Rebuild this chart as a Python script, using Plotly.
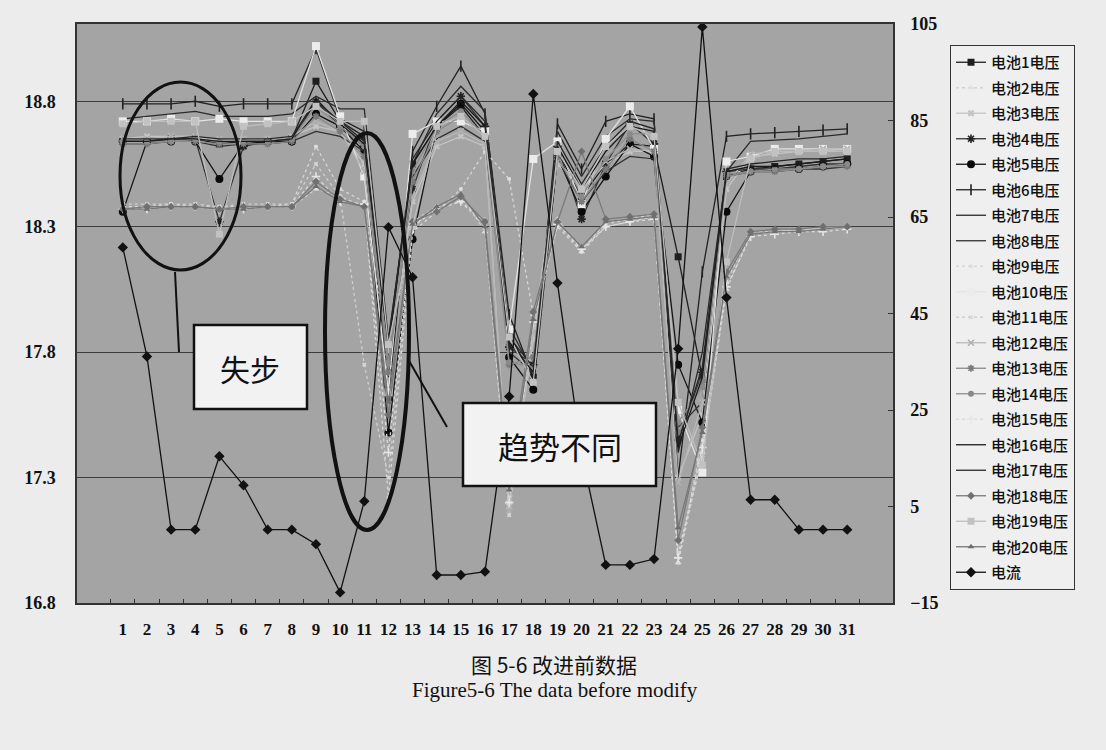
import plotly.graph_objects as go

# ---------------- data ----------------
points = [str(i) for i in range(1, 32)]

b1 = [18.64,18.64,18.65,18.65,18.63,18.64,18.64,18.65,18.88,18.72,18.66,17.62,18.55,18.70,18.78,18.66,17.87,17.70,18.60,18.42,18.55,18.63,18.62,18.18,17.70,18.50,18.53,18.54,18.55,18.56,18.57]
b2 = [18.37,18.38,18.38,18.38,18.37,18.38,18.38,18.38,18.45,18.42,18.38,17.80,18.30,18.38,18.43,18.28,17.18,17.95,18.33,18.20,18.32,18.33,18.35,16.96,17.40,18.05,18.27,18.28,18.28,18.29,18.30]
b3 = [18.65,18.66,18.66,18.66,18.64,18.65,18.65,18.66,18.70,18.68,18.55,17.75,18.40,18.62,18.66,18.62,17.20,17.85,18.55,18.45,18.55,18.60,18.60,17.30,17.55,18.45,18.58,18.59,18.60,18.60,18.61]
b4 = [18.64,18.64,18.65,18.65,18.32,18.62,18.64,18.64,18.80,18.70,18.62,17.78,18.45,18.72,18.82,18.70,17.82,17.75,18.62,18.33,18.55,18.71,18.63,17.45,17.72,18.52,18.53,18.53,18.54,18.55,18.55]
b5 = [18.36,18.64,18.64,18.64,18.49,18.63,18.64,18.64,18.75,18.70,18.60,17.48,18.25,18.70,18.79,18.68,17.78,17.65,18.58,18.36,18.50,18.63,18.58,17.75,17.52,18.36,18.52,18.53,18.53,18.54,18.55]
b6 = [18.79,18.79,18.79,18.80,18.78,18.79,18.79,18.79,19.01,18.73,18.68,17.80,18.60,18.78,18.94,18.75,17.95,17.70,18.71,18.53,18.72,18.75,18.73,17.30,18.12,18.66,18.67,18.675,18.68,18.685,18.69]
b7 = [18.73,18.74,18.75,18.76,18.74,18.74,18.74,18.75,18.82,18.77,18.77,17.85,18.55,18.75,18.86,18.76,17.90,17.72,18.68,18.50,18.66,18.73,18.72,17.40,17.80,18.52,18.64,18.645,18.65,18.66,18.67]
b8 = [18.63,18.63,18.64,18.64,18.62,18.63,18.63,18.64,18.68,18.66,18.60,17.70,18.50,18.65,18.70,18.64,17.80,17.72,18.57,18.40,18.52,18.58,18.57,17.50,17.60,18.50,18.52,18.52,18.53,18.53,18.54]
b9 = [18.38,18.38,18.39,18.38,18.38,18.38,18.38,18.39,18.62,18.45,18.40,17.22,18.28,18.36,18.45,18.60,18.49,17.95,18.30,18.20,18.30,18.32,18.34,16.96,17.45,18.10,18.27,18.28,18.29,18.29,18.30]
b10 = [18.72,18.72,18.73,18.72,18.73,18.72,18.72,18.72,19.02,18.74,18.50,17.64,18.67,18.72,18.72,18.68,17.89,18.57,18.64,18.39,18.65,18.78,18.61,17.57,17.32,18.56,18.58,18.61,18.61,18.61,18.61]
b11 = [18.39,18.39,18.39,18.39,18.38,18.39,18.39,18.39,18.55,18.42,17.75,17.30,18.32,18.38,18.40,18.30,17.15,17.90,18.32,18.22,18.31,18.33,18.34,17.00,17.38,18.08,18.28,18.28,18.29,18.29,18.30]
b12 = [18.65,18.65,18.66,18.66,18.65,18.65,18.65,18.66,18.72,18.68,18.52,17.80,18.42,18.64,18.68,18.63,17.17,17.88,18.56,18.46,18.56,18.61,18.60,17.28,17.60,18.47,18.59,18.60,18.60,18.61,18.61]
b13 = [18.63,18.63,18.64,18.64,18.63,18.63,18.63,18.64,18.74,18.68,18.58,17.72,18.48,18.68,18.74,18.66,17.75,17.78,18.58,18.40,18.53,18.65,18.60,17.48,17.68,18.50,18.52,18.52,18.53,18.54,18.54]
b14 = [18.64,18.64,18.64,18.65,18.64,18.64,18.64,18.65,18.78,18.70,18.62,17.76,18.52,18.70,18.76,18.66,17.76,17.74,18.63,18.42,18.57,18.67,18.67,17.52,17.66,18.51,18.52,18.53,18.53,18.54,18.55]
b15 = [18.37,18.37,18.38,18.38,18.37,18.37,18.38,18.38,18.50,18.40,18.39,17.40,18.30,18.37,18.40,18.32,17.20,17.92,18.31,18.21,18.30,18.32,18.33,16.98,17.42,18.06,18.26,18.27,18.28,18.28,18.29]
b16 = [18.64,18.64,18.65,18.65,18.64,18.64,18.64,18.65,18.81,18.71,18.63,17.82,18.55,18.70,18.80,18.70,17.84,17.72,18.62,18.45,18.60,18.70,18.68,17.42,17.70,18.52,18.54,18.54,18.55,18.56,18.57]
b17 = [18.65,18.65,18.65,18.66,18.65,18.65,18.65,18.66,18.80,18.72,18.64,17.84,18.57,18.72,18.82,18.72,17.86,17.74,18.64,18.47,18.62,18.72,18.69,17.44,17.74,18.53,18.55,18.56,18.57,18.57,18.58]
b18 = [18.37,18.38,18.38,18.38,18.37,18.38,18.38,18.38,18.48,18.41,18.38,17.55,18.32,18.36,18.42,18.32,17.30,17.96,18.32,18.60,18.33,18.34,18.35,17.05,17.50,18.12,18.28,18.29,18.29,18.30,18.30]
b19 = [18.71,18.72,18.72,18.72,18.27,18.70,18.71,18.72,18.78,18.72,18.72,17.83,18.30,18.70,18.74,18.66,17.86,17.68,18.60,18.45,18.62,18.70,18.66,17.60,17.35,18.16,18.57,18.60,18.60,18.60,18.60]
b20 = [18.37,18.37,18.38,18.38,18.37,18.37,18.38,18.38,18.46,18.40,18.38,17.60,18.31,18.38,18.43,18.30,17.25,17.93,18.32,18.22,18.32,18.33,18.34,17.10,17.48,18.10,18.27,18.28,18.28,18.29,18.30]
current = [58.7,36.1,0.2,0.2,15.4,9.4,0.2,0.2,-2.8,-12.8,6.1,62.9,52.5,-9.2,-9.2,-8.5,27.8,90.5,51.3,16.0,-7.1,-7.1,-5.9,37.7,104.4,48.3,6.4,6.4,0.2,0.2,0.2]

battery_names = [f"电池{i}电压" for i in range(1, 21)]
current_name = "电流"
left_ticks = [16.8, 17.3, 17.8, 18.3, 18.8]
right_ticks = [-15, 5, 25, 45, 65, 85, 105]
caption_cn = "图 5-6 改进前数据"
caption_en = "Figure5-6 The data before modify"
note1 = "失步"
note2 = "趋势不同"

battery_values = [b1, b2, b3, b4, b5, b6, b7, b8, b9, b10,
                  b11, b12, b13, b14, b15, b16, b17, b18, b19, b20]

# ---------------- styles ----------------
# (line color, dash, marker symbol or None, marker size, marker color)
styles = [
    ("#1e1e1e", "solid", "square", 7, "#1e1e1e"),
    ("#d2d2d2", "dot", "triangle-up", 6, "#e0e0e0"),
    ("#c4c4c4", "solid", "x", 6, "#c4c4c4"),
    ("#333333", "solid", "asterisk-open", 7, "#222222"),
    ("#151515", "solid", "circle", 8, "#0a0a0a"),
    ("#222222", "solid", "line-ns-open", 8, "#222222"),
    ("#2a2a2a", "solid", None, 0, None),
    ("#303030", "solid", None, 0, None),
    ("#d6d6d6", "dot", "circle", 4, "#dddddd"),
    ("#e2e2e2", "solid", "square", 8, "#ececec"),
    ("#d0d0d0", "dot", "x", 4, "#d8d8d8"),
    ("#b8b8b8", "solid", "x-thin-open", 6, "#b0b0b0"),
    ("#8a8a8a", "solid", "asterisk-open", 6, "#7a7a7a"),
    ("#8d8d8d", "solid", "circle", 6, "#8a8a8a"),
    ("#dcdcdc", "dot", "cross-thin-open", 6, "#e6e6e6"),
    ("#1a1a1a", "solid", None, 0, None),
    ("#262626", "solid", None, 0, None),
    ("#7a7a7a", "solid", "diamond", 6, "#707070"),
    ("#bdbdbd", "solid", "square", 7, "#c2c2c2"),
    ("#777777", "solid", "triangle-up", 6, "#6e6e6e"),
]

fig = go.Figure()

for i, (name, vals, st) in enumerate(zip(battery_names, battery_values, styles)):
    lc, dash, sym, ms, mc = st
    kw = dict(x=points, y=vals, name=name, legendgroup=f"g{i}",
              line=dict(color=lc, width=1.3, dash=dash), yaxis="y")
    if sym is None:
        kw["mode"] = "lines"
    else:
        kw["mode"] = "lines+markers"
        marker = dict(symbol=sym, size=ms, color=mc)
        if sym.endswith("-open"):
            marker["line"] = dict(width=1.6, color=mc)
        kw["marker"] = marker
    fig.add_trace(go.Scatter(**kw))

fig.add_trace(go.Scatter(
    x=points, y=current, name=current_name, legendgroup="gcur",
    mode="lines+markers", yaxis="y2",
    line=dict(color="#111111", width=1.3),
    marker=dict(symbol="diamond", size=8, color="#111111")))

# ---------------- layout helpers ----------------
L, R, T, B = 77, 213, 24, 147
W, H = 1106, 750
PW, PH = W - L - R, H - T - B


def px(x):
    return (x - L) / PW


def py(y):
    return (H - B - y) / PH


shapes = [
    dict(type="circle", xref="paper", yref="paper",
         x0=px(120), x1=px(241), y0=py(82), y1=py(270),
         line=dict(color="#111111", width=3)),
    dict(type="line", xref="paper", yref="paper",
         x0=px(175), y0=py(272), x1=px(179), y1=py(352),
         line=dict(color="#111111", width=2)),
    dict(type="circle", xref="paper", yref="paper",
         x0=px(325), x1=px(409), y0=py(133), y1=py(530),
         line=dict(color="#111111", width=4)),
    dict(type="line", xref="paper", yref="paper",
         x0=px(408), y0=py(359), x1=px(447), y1=py(427),
         line=dict(color="#111111", width=2)),
    dict(type="rect", xref="paper", yref="paper",
         x0=px(194), x1=px(307), y0=py(409), y1=py(325),
         fillcolor="#f2f2f2", line=dict(color="#111111", width=2.5)),
    dict(type="rect", xref="paper", yref="paper",
         x0=px(463), x1=px(656), y0=py(486), y1=py(403),
         fillcolor="#f2f2f2", line=dict(color="#111111", width=2.5)),
]

annotations = [
    dict(text=note1, xref="paper", yref="paper", x=px(250), y=py(368),
         xanchor="center", yanchor="middle", showarrow=False,
         font=dict(family="Noto Sans CJK SC", size=30, color="#111111")),
    dict(text=note2, xref="paper", yref="paper", x=px(560), y=py(445),
         xanchor="center", yanchor="middle", showarrow=False,
         font=dict(family="Noto Sans CJK SC", size=31, color="#111111")),
    dict(text=caption_cn, xref="paper", yref="paper", x=px(554), y=py(664),
         xanchor="center", yanchor="middle", showarrow=False,
         font=dict(family="Noto Sans CJK SC", size=21, color="#111111")),
    dict(text=caption_en, xref="paper", yref="paper", x=px(555), y=py(690),
         xanchor="center", yanchor="middle", showarrow=False,
         font=dict(family="Liberation Serif", size=21, color="#111111")),
]

fig.update_layout(
    width=W, height=H,
    margin=dict(l=L, r=R, t=T, b=B),
    paper_bgcolor="#ececec",
    plot_bgcolor="#a4a4a4",
    showlegend=True,
    legend=dict(
        x=px(950), y=py(45), xanchor="left", yanchor="top",
        bgcolor="#efefef", bordercolor="#333333", borderwidth=1,
        font=dict(family="Noto Sans CJK SC", size=15, color="#111111", weight=500),
        tracegroupgap=3, itemwidth=30,
    ),
    xaxis=dict(
        type="category", categoryorder="array", categoryarray=points,
        tickson="boundaries", ticks="inside", ticklen=4, tickcolor="#333333",
        showgrid=False, showline=True, linecolor="#333333", linewidth=1.5, mirror=True,
        tickangle=0,
        tickfont=dict(family="Liberation Serif", size=17, color="#111111", weight="bold"),
        ticklabelstandoff=10,
    ),
    yaxis=dict(
        range=[16.8, 19.108], tickvals=left_ticks,
        ticktext=[f"{v:.1f}" for v in left_ticks],
        showgrid=True, gridcolor="#3c3c3c", gridwidth=1,
        zeroline=False, showline=True, linecolor="#333333", linewidth=1.5, mirror=True,
        tickfont=dict(family="Liberation Serif", size=18, color="#111111", weight="bold"),
        ticks="", ticklabelstandoff=16,
    ),
    yaxis2=dict(
        range=[-15, 105], tickvals=right_ticks, overlaying="y", side="right",
        showgrid=False, zeroline=False, showline=True, linecolor="#333333", linewidth=1.5,
        ticks="inside", ticklen=5, tickcolor="#333333",
        tickfont=dict(family="Liberation Serif", size=18, color="#111111", weight="bold"),
        ticklabelstandoff=12,
    ),
    shapes=shapes,
    annotations=annotations,
)

fig.write_html("out.html", config={"displayModeBar": False},
               post_script="document.body.style.margin='0';document.body.style.background='#ececec';")
